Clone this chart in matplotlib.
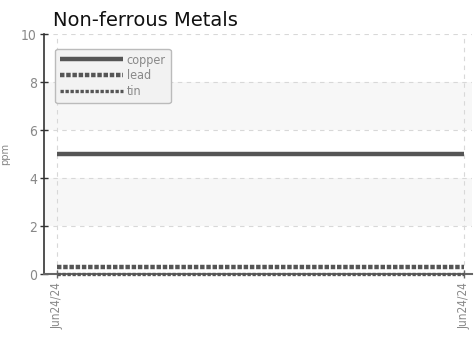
import matplotlib
matplotlib.use("Agg")
import matplotlib.pyplot as plt

# data
dates = ["Jun24/24", "Jun24/24"]
copper = [5.0, 5.0]
lead = [0.3, 0.3]
tin = [0.02, 0.02]

GRAY = "#888888"
LINE = "#555555"

fig = plt.figure(figsize=(4.74, 3.43), dpi=100)
ax = fig.add_axes([44 / 474, 1 - 274 / 343, 428 / 474, 240 / 343])

x = list(range(len(dates)))

# alternating bands
for lo in (2, 6):
    ax.axhspan(lo, lo + 2, color="#f7f7f7", zorder=0, lw=0)

ax.plot(x, copper, color=LINE, lw=3.2, solid_capstyle="butt", label="copper", zorder=3)
ax.plot(x, lead, color=LINE, lw=3.2, ls=(0, (1, 0.4)), label="lead", zorder=3)
ax.plot(x, tin, color=LINE, lw=2.4, ls=(0, (1, 0.5)), label="tin", zorder=4, clip_on=False)

ax.set_ylim(0, 10)
ax.set_xlim(-13 / 409, 1 + 8 / 409)
ax.set_yticks([0, 2, 4, 6, 8, 10])
ax.set_xticks(x)
ax.set_xticklabels(dates, rotation=90)

ax.grid(True, ls=(0, (4, 4)), color="#d8d8d8", lw=0.8, zorder=1)
ax.set_axisbelow(True)

for s in ("top", "right"):
    ax.spines[s].set_visible(False)
ax.spines["left"].set_color("#333333")
ax.spines["left"].set_linewidth(1.2)
ax.spines["bottom"].set_color("#666666")
ax.spines["bottom"].set_linewidth(1.5)

ax.tick_params(axis="y", direction="inout", length=6, width=1, color="#333333",
               labelcolor=GRAY, labelsize=10, pad=2)
ax.tick_params(axis="x", direction="inout", length=6, width=1, color="#666666",
               labelcolor=GRAY, labelsize=8.5, pad=3)
for lab in ax.get_xticklabels() + ax.get_yticklabels():
    lab.set_fontstretch("condensed")

ax.set_ylabel("ppm", color=GRAY, fontsize=8, fontstretch="condensed", labelpad=8)

ax.set_title("Non-ferrous Metals", loc="left", fontsize=14, color="#111111",
             x=0.02, pad=6)

leg = ax.legend(loc="upper left", bbox_to_anchor=(0.012, 0.965), fancybox=True,
                handlelength=5.0, handletextpad=0.3, labelspacing=0.22,
                borderpad=0.4, prop={"size": 9, "stretch": "condensed"},
                framealpha=1)
leg.get_frame().set_facecolor("#f2f2f2")
leg.get_frame().set_edgecolor("#bbbbbb")
for t in leg.get_texts():
    t.set_color(GRAY)

fig.savefig("out.png", dpi=100)
